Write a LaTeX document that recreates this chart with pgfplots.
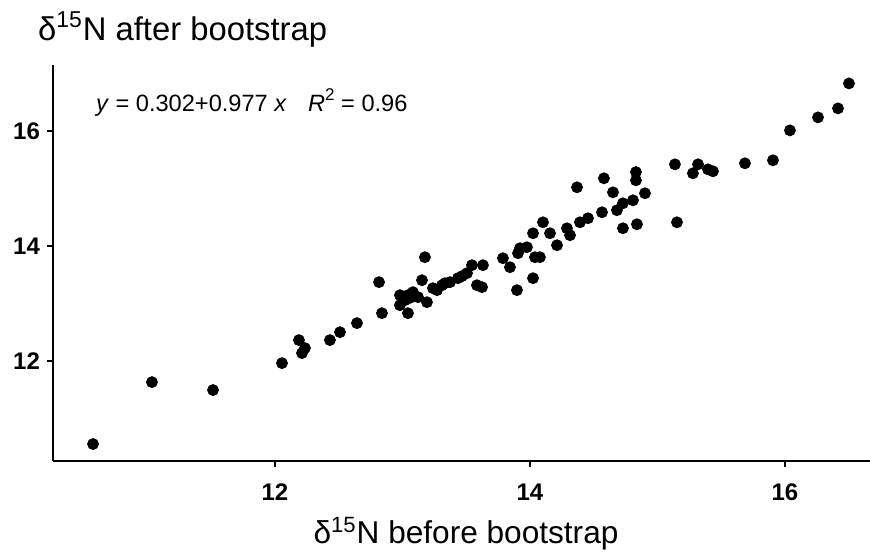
\documentclass[border=0pt]{standalone}
\usepackage{fontspec}
\setmainfont{Liberation Sans}
\usepackage{pgfplots}
\pgfplotsset{compat=1.18}
\begin{document}
\begin{tikzpicture}
\path[use as bounding box] (-26.5pt,-45.5pt) rectangle (408.5pt,230.5pt);
\begin{axis}[
 scale only axis, width=408.5pt, height=198pt,
 xmin=10.259, xmax=16.667, ymin=10.264, ymax=17.146,
 axis x line*=bottom, axis y line*=left,
 axis line style={line width=0.9pt, black, -},
 xtick={12,14,16}, ytick={12,14,16},
 tick align=outside, major tick length=3pt,
 tick style={line width=0.7pt, black},
 ticklabel style={font=\fontsize{12}{12}\selectfont\bfseries, text=black},
 xticklabel style={yshift=-5pt},
 /pgf/number format/assume math mode=true,
 clip=false,
]
\addplot[only marks, mark=*, mark size=2.75pt, mark options={fill=black, draw=black}] table {
x y
10.573 10.559
11.035 11.635
11.514 11.497
12.055 11.965
12.188 12.365
12.235 12.226
12.212 12.139
12.431 12.365
12.510 12.503
12.643 12.660
12.816 13.372
12.839 12.833
13.043 12.833
12.980 13.146
12.980 12.972
13.043 13.146
13.082 13.198
13.122 13.111
13.192 13.024
13.153 13.406
13.176 13.806
13.239 13.267
13.310 13.319
13.373 13.372
13.435 13.441
13.506 13.528
13.545 13.667
13.631 13.667
13.584 13.319
13.624 13.285
13.271 13.233
13.333 13.354
13.467 13.476
13.020 13.059
13.060 13.100
13.788 13.788
13.843 13.632
13.906 13.875
13.976 13.979
14.024 14.222
14.039 13.806
14.024 13.441
13.898 13.233
14.102 14.413
14.078 13.806
14.212 14.014
14.290 14.309
14.157 14.222
13.922 13.962
14.314 14.188
14.369 15.021
14.392 14.413
14.455 14.483
14.565 14.587
14.580 15.177
14.651 14.934
14.682 14.622
14.729 14.743
14.808 14.795
14.831 15.285
14.831 15.142
14.902 14.917
14.729 14.309
14.839 14.378
15.137 15.420
15.153 14.413
15.278 15.264
15.318 15.420
15.396 15.333
15.435 15.299
15.686 15.438
15.906 15.490
16.039 16.010
16.259 16.236
16.416 16.392
16.502 16.826
};
\node[anchor=base west, font=\fontsize{11.8}{12}\selectfont, xshift=18pt, yshift=-23pt] at (rel axis cs:0,1) {\textit{y} = 0.302+0.977 \textit{x}\hspace{0.9em}\textit{R}\raisebox{0.45em}{\fontsize{8.5}{9}\selectfont 2} = 0.96};
\node[anchor=base west, font=\fontsize{16.4}{17}\selectfont, xshift=-11pt, yshift=12.5pt] at (rel axis cs:0,1) {δ\textsuperscript{15}N after bootstrap};
\node[anchor=base, font=\fontsize{15.8}{17}\selectfont, yshift=-41pt] at (rel axis cs:0.5055,0) {δ\textsuperscript{15}N before bootstrap};
\end{axis}
\end{tikzpicture}
\end{document}
